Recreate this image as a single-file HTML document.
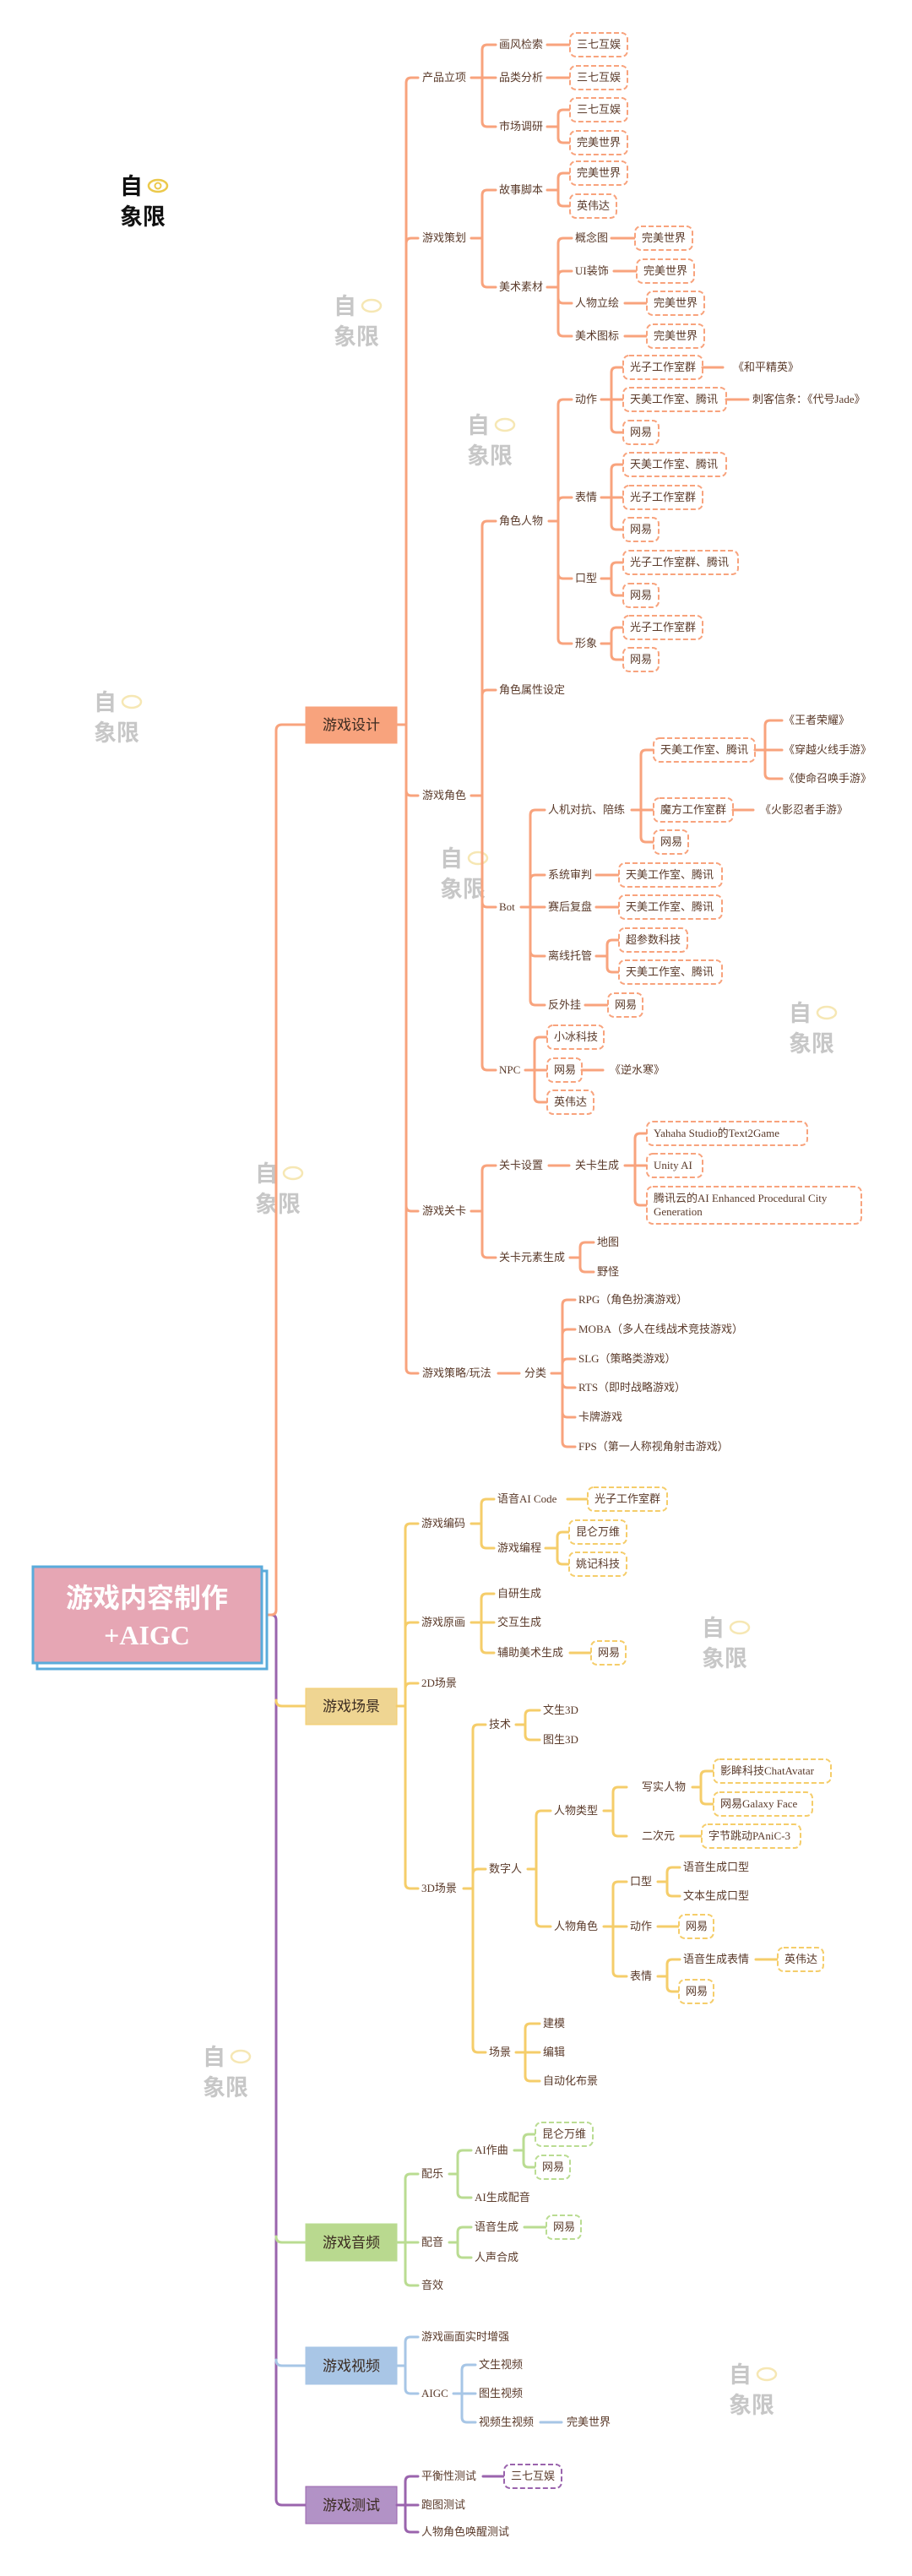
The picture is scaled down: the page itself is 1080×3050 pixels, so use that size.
<!DOCTYPE html>
<html><head><meta charset="utf-8"><style>
html,body{margin:0;padding:0;background:#fff}
svg{display:block}
text{font-family:"Liberation Serif","Noto Sans CJK SC",serif;font-size:13px;fill:#5a3a2a}
.m{font-family:"Liberation Sans","Noto Sans CJK SC",sans-serif;font-size:17px;fill:#3a2a20;text-anchor:middle}
path{fill:none;stroke-width:3;stroke-linecap:round;stroke-linejoin:round}
.o path,.o rect{stroke:#f8a37d}.y path,.y rect{stroke:#f5cd6a}.g path,.g rect{stroke:#badc92}.b path,.b rect{stroke:#a7c6e6}.p path,.p rect{stroke:#9a64ad}
rect.x{fill:#fff;stroke-width:2;stroke-dasharray:6 3}
.wm{font-family:"Liberation Sans","Noto Sans CJK SC",sans-serif;font-weight:bold;font-size:27px;fill:#c4c4c4}
</style></head><body>
<svg width="1080" height="3050" viewBox="0 0 1080 3050" xmlns="http://www.w3.org/2000/svg">
<!-- watermarks -->
<g>
<text class="wm" x="142" y="230" style="fill:#111">自</text><text class="wm" x="142" y="266" style="fill:#111">象限</text>
<ellipse cx="187" cy="220" rx="11" ry="7" fill="none" stroke="#ecc94b" stroke-width="2.5"/><circle cx="187" cy="220" r="3.5" fill="none" stroke="#ecc94b" stroke-width="2"/>
</g>
<g opacity="0.95">
<g transform="translate(395,347)"><text class="wm" x="0" y="25">自</text><text class="wm" x="0" y="61">象限</text><ellipse cx="45" cy="15" rx="11" ry="7" fill="none" stroke="#f6e6b0" stroke-width="2.5"/></g>
<g transform="translate(553,488)"><text class="wm" x="0" y="25">自</text><text class="wm" x="0" y="61">象限</text><ellipse cx="45" cy="15" rx="11" ry="7" fill="none" stroke="#f6e6b0" stroke-width="2.5"/></g>
<g transform="translate(111,816)"><text class="wm" x="0" y="25">自</text><text class="wm" x="0" y="61">象限</text><ellipse cx="45" cy="15" rx="11" ry="7" fill="none" stroke="#f6e6b0" stroke-width="2.5"/></g>
<g transform="translate(521,1001)"><text class="wm" x="0" y="25">自</text><text class="wm" x="0" y="61">象限</text><ellipse cx="45" cy="15" rx="11" ry="7" fill="none" stroke="#f6e6b0" stroke-width="2.5"/></g>
<g transform="translate(934,1184)"><text class="wm" x="0" y="25">自</text><text class="wm" x="0" y="61">象限</text><ellipse cx="45" cy="15" rx="11" ry="7" fill="none" stroke="#f6e6b0" stroke-width="2.5"/></g>
<g transform="translate(302,1374)"><text class="wm" x="0" y="25">自</text><text class="wm" x="0" y="61">象限</text><ellipse cx="45" cy="15" rx="11" ry="7" fill="none" stroke="#f6e6b0" stroke-width="2.5"/></g>
<g transform="translate(831,1912)"><text class="wm" x="0" y="25">自</text><text class="wm" x="0" y="61">象限</text><ellipse cx="45" cy="15" rx="11" ry="7" fill="none" stroke="#f6e6b0" stroke-width="2.5"/></g>
<g transform="translate(240,2420)"><text class="wm" x="0" y="25">自</text><text class="wm" x="0" y="61">象限</text><ellipse cx="45" cy="15" rx="11" ry="7" fill="none" stroke="#f6e6b0" stroke-width="2.5"/></g>
<g transform="translate(863,2796)"><text class="wm" x="0" y="25">自</text><text class="wm" x="0" y="61">象限</text><ellipse cx="45" cy="15" rx="11" ry="7" fill="none" stroke="#f6e6b0" stroke-width="2.5"/></g>
</g>

<!-- trunk -->
<g class="p"><path d="M316 1912 H321 Q327 1912 327 1918 V2959 Q327 2966 334 2966 H362"/></g>
<g class="y"><path d="M327 2013 Q327 2020 334 2020 H362"/></g>
<g class="g"><path d="M327 2648 Q327 2655 334 2655 H362"/></g>
<g class="b"><path d="M327 2794 Q327 2801 334 2801 H362"/></g>
<g class="o"><path d="M316 1912 H321 Q327 1912 327 1906 V865 Q327 858 334 858 H362"/></g>

<!-- root -->
<rect x="44" y="1860" width="272" height="116" fill="#fff" stroke="#5aabdb" stroke-width="3"/>
<rect x="39" y="1855" width="271" height="114" fill="#e6a6b4" stroke="#5aabdb" stroke-width="3"/>
<text x="174" y="1903" style="font-family:'Liberation Sans','Noto Sans CJK SC',sans-serif;font-size:32px;font-weight:bold;fill:#fff;text-anchor:middle">游戏内容制作</text>
<text x="174" y="1947" style="font-family:'Liberation Serif','Noto Sans CJK SC',serif;font-size:32px;font-weight:bold;fill:#fff;text-anchor:middle">+AIGC</text>

<!-- ========== 游戏设计 ========== -->
<g class="o">
<rect x="362" y="837" width="108" height="43" fill="#f8a37d"/>
<text class="m" x="416" y="864">游戏设计</text>
<path d="M470 858 H481"/>
<path d="M481 858 V98 Q481 92 487 92 H495"/>
<path d="M481 858 V288 Q481 282 487 282 H495"/>
<path d="M481 858 V936 Q481 942 487 942 H495"/>
<path d="M481 858 V1428 Q481 1434 487 1434 H495"/>
<path d="M481 858 V1620 Q481 1626 487 1626 H495"/>
<text x="500" y="96">产品立项</text><text x="500" y="286">游戏策划</text><text x="500" y="946">游戏角色</text><text x="500" y="1438">游戏关卡</text><text x="500" y="1630">游戏策略/玩法</text>

<!-- 产品立项 -->
<path d="M558 92 H571"/><path d="M571 92 V59 Q571 53 577 53 H587"/><path d="M571 92 H587"/><path d="M571 92 V144 Q571 150 577 150 H587"/>
<text x="591" y="57">画风检索</text><text x="591" y="96">品类分析</text><text x="591" y="154">市场调研</text>
<path d="M648 53 H675"/><path d="M648 92 H675"/>
<path d="M648 150 H661"/><path d="M661 150 V136 Q661 130 667 130 H675"/><path d="M661 150 V163 Q661 169 667 169 H675"/>
<rect class="x" x="675" y="39" width="68" height="28" rx="7"/><text x="683" y="57">三七互娱</text>
<rect class="x" x="675" y="78" width="68" height="28" rx="7"/><text x="683" y="96">三七互娱</text>
<rect class="x" x="675" y="116" width="68" height="28" rx="7"/><text x="683" y="134">三七互娱</text>
<rect class="x" x="675" y="155" width="68" height="28" rx="7"/><text x="683" y="173">完美世界</text>

<!-- 游戏策划 -->
<path d="M558 282 H571"/><path d="M571 282 V231 Q571 225 577 225 H587"/><path d="M571 282 V334 Q571 340 577 340 H587"/>
<text x="591" y="229">故事脚本</text><text x="591" y="344">美术素材</text>
<path d="M648 225 H661"/><path d="M661 225 V211 Q661 205 667 205 H675"/><path d="M661 225 V238 Q661 244 667 244 H675"/>
<rect class="x" x="675" y="191" width="68" height="28" rx="7"/><text x="683" y="209">完美世界</text>
<rect class="x" x="675" y="230" width="55" height="28" rx="7"/><text x="683" y="248">英伟达</text>
<path d="M648 340 H661"/><path d="M661 340 V288 Q661 282 667 282 H677"/><path d="M661 340 V327 Q661 321 667 321 H677"/><path d="M661 340 V353 Q661 359 667 359 H677"/><path d="M661 340 V392 Q661 398 667 398 H677"/>
<text x="681" y="286">概念图</text><text x="681" y="325">UI装饰</text><text x="681" y="363">人物立绘</text><text x="681" y="402">美术图标</text>
<path d="M724 282 H752"/><path d="M727 321 H754"/><path d="M740 359 H766"/><path d="M740 398 H766"/>
<rect class="x" x="752" y="268" width="68" height="28" rx="7"/><text x="760" y="286">完美世界</text>
<rect class="x" x="754" y="307" width="68" height="28" rx="7"/><text x="762" y="325">完美世界</text>
<rect class="x" x="766" y="345" width="68" height="28" rx="7"/><text x="774" y="363">完美世界</text>
<rect class="x" x="766" y="384" width="68" height="28" rx="7"/><text x="774" y="402">完美世界</text>

<!-- 游戏角色 -->
<path d="M558 942 H571"/><path d="M571 942 V623 Q571 617 577 617 H587"/><path d="M571 942 V823 Q571 817 577 817 H587"/><path d="M571 942 V1068 Q571 1074 577 1074 H587"/><path d="M571 942 V1261 Q571 1267 577 1267 H587"/>
<text x="591" y="621">角色人物</text><text x="591" y="821">角色属性设定</text><text x="591" y="1078">Bot</text><text x="591" y="1271">NPC</text>
<!-- 角色人物 -->
<path d="M650 617 H661"/><path d="M661 617 V479 Q661 473 667 473 H677"/><path d="M661 617 V595 Q661 589 667 589 H677"/><path d="M661 617 V679 Q661 685 667 685 H677"/><path d="M661 617 V756 Q661 762 667 762 H677"/>
<text x="681" y="477">动作</text><text x="681" y="593">表情</text><text x="681" y="689">口型</text><text x="681" y="766">形象</text>
<path d="M712 473 H724"/><path d="M724 473 V441 Q724 435 730 435 H738"/><path d="M724 473 H738"/><path d="M724 473 V506 Q724 512 730 512 H738"/>
<rect class="x" x="738" y="421" width="94" height="28" rx="7"/><text x="746" y="439">光子工作室群</text>
<rect class="x" x="738" y="459" width="122" height="28" rx="7"/><text x="746" y="477">天美工作室、腾讯</text>
<rect class="x" x="738" y="498" width="42" height="28" rx="7"/><text x="746" y="516">网易</text>
<path d="M832 435 H856"/><text x="868" y="439">《和平精英》</text>
<path d="M860 473 H886"/><text x="891" y="477">刺客信条：《代号Jade》</text>
<path d="M712 589 H724"/><path d="M724 589 V556 Q724 550 730 550 H738"/><path d="M724 589 H738"/><path d="M724 589 V621 Q724 627 730 627 H738"/>
<rect class="x" x="738" y="536" width="122" height="28" rx="7"/><text x="746" y="554">天美工作室、腾讯</text>
<rect class="x" x="738" y="575" width="94" height="28" rx="7"/><text x="746" y="593">光子工作室群</text>
<rect class="x" x="738" y="613" width="42" height="28" rx="7"/><text x="746" y="631">网易</text>
<path d="M712 685 H724"/><path d="M724 685 V672 Q724 666 730 666 H738"/><path d="M724 685 V699 Q724 705 730 705 H738"/>
<rect class="x" x="738" y="652" width="136" height="28" rx="7"/><text x="746" y="670">光子工作室群、腾讯</text>
<rect class="x" x="738" y="691" width="42" height="28" rx="7"/><text x="746" y="709">网易</text>
<path d="M712 762 H724"/><path d="M724 762 V749 Q724 743 730 743 H738"/><path d="M724 762 V775 Q724 781 730 781 H738"/>
<rect class="x" x="738" y="729" width="94" height="28" rx="7"/><text x="746" y="747">光子工作室群</text>
<rect class="x" x="738" y="767" width="42" height="28" rx="7"/><text x="746" y="785">网易</text>
<!-- Bot -->
<path d="M617 1074 H628"/><path d="M628 1074 V965 Q628 959 634 959 H645"/><path d="M628 1074 V1042 Q628 1036 634 1036 H645"/><path d="M628 1074 H645"/><path d="M628 1074 V1126 Q628 1132 634 1132 H645"/><path d="M628 1074 V1184 Q628 1190 634 1190 H645"/>
<text x="649" y="963">人机对抗、陪练</text><text x="649" y="1040">系统审判</text><text x="649" y="1078">赛后复盘</text><text x="649" y="1136">离线托管</text><text x="649" y="1194">反外挂</text>
<path d="M748 959 H759"/><path d="M759 959 V894 Q759 888 765 888 H774"/><path d="M759 959 H774"/><path d="M759 959 V991 Q759 997 765 997 H774"/>
<rect class="x" x="774" y="874" width="120" height="28" rx="7"/><text x="782" y="892">天美工作室、腾讯</text>
<rect class="x" x="774" y="945" width="94" height="28" rx="7"/><text x="782" y="963">魔方工作室群</text>
<rect class="x" x="774" y="983" width="41" height="28" rx="7"/><text x="782" y="1001">网易</text>
<path d="M894 888 H906"/><path d="M906 888 V859 Q906 853 912 853 H926"/><path d="M906 888 H926"/><path d="M906 888 V916 Q906 922 912 922 H926"/>
<text x="928" y="857">《王者荣耀》</text><text x="928" y="892">《穿越火线手游》</text><text x="928" y="926">《使命召唤手游》</text>
<path d="M868 959 H892"/><text x="900" y="963">《火影忍者手游》</text>
<path d="M706 1036 H733"/><rect class="x" x="733" y="1022" width="122" height="28" rx="7"/><text x="741" y="1040">天美工作室、腾讯</text>
<path d="M706 1074 H733"/><rect class="x" x="733" y="1060" width="122" height="28" rx="7"/><text x="741" y="1078">天美工作室、腾讯</text>
<path d="M706 1132 H719"/><path d="M719 1132 V1119 Q719 1113 725 1113 H733"/><path d="M719 1132 V1145 Q719 1151 725 1151 H733"/>
<rect class="x" x="733" y="1099" width="81" height="28" rx="7"/><text x="741" y="1117">超参数科技</text>
<rect class="x" x="733" y="1137" width="122" height="28" rx="7"/><text x="741" y="1155">天美工作室、腾讯</text>
<path d="M693 1190 H720"/><rect class="x" x="720" y="1176" width="41" height="28" rx="7"/><text x="728" y="1194">网易</text>
<!-- NPC -->
<path d="M622 1267 H633"/><path d="M633 1267 V1234 Q633 1228 639 1228 H648"/><path d="M633 1267 H648"/><path d="M633 1267 V1299 Q633 1305 639 1305 H648"/>
<rect class="x" x="648" y="1214" width="67" height="28" rx="7"/><text x="656" y="1232">小冰科技</text>
<rect class="x" x="648" y="1253" width="41" height="28" rx="7"/><text x="656" y="1271">网易</text>
<rect class="x" x="648" y="1291" width="55" height="28" rx="7"/><text x="656" y="1309">英伟达</text>
<path d="M689 1267 H714"/><text x="722" y="1271">《逆水寒》</text>

<!-- 游戏关卡 -->
<path d="M558 1434 H571"/><path d="M571 1434 V1386 Q571 1380 577 1380 H587"/><path d="M571 1434 V1483 Q571 1489 577 1489 H587"/>
<text x="591" y="1384">关卡设置</text><text x="591" y="1493">关卡元素生成</text>
<path d="M650 1380 H674"/><text x="681" y="1384">关卡生成</text>
<path d="M740 1380 H752"/><path d="M752 1380 V1348 Q752 1342 758 1342 H766"/><path d="M752 1380 H766"/><path d="M752 1380 V1421 Q752 1427 758 1427 H766"/>
<rect class="x" x="766" y="1328" width="190" height="28" rx="7"/><text x="774" y="1346">Yahaha Studio的Text2Game</text>
<rect class="x" x="766" y="1366" width="66" height="28" rx="7"/><text x="774" y="1384">Unity AI</text>
<rect class="x" x="766" y="1405" width="254" height="44" rx="7"/><text x="774" y="1423">腾讯云的AI Enhanced Procedural City</text><text x="774" y="1439">Generation</text>
<path d="M675 1489 H687"/><path d="M687 1489 V1477 Q687 1471 693 1471 H703"/><path d="M687 1489 V1500 Q687 1506 693 1506 H703"/>
<text x="707" y="1475">地图</text><text x="707" y="1510">野怪</text>
<!-- 策略 -->
<path d="M590 1626 H615"/><text x="621" y="1630">分类</text>
<path d="M653 1626 H666"/>
<path d="M666 1626 V1545 Q666 1539 672 1539 H681"/><path d="M666 1626 V1580 Q666 1574 672 1574 H681"/><path d="M666 1626 V1615 Q666 1609 672 1609 H681"/><path d="M666 1626 V1637 Q666 1643 672 1643 H681"/><path d="M666 1626 V1672 Q666 1678 672 1678 H681"/><path d="M666 1626 V1707 Q666 1713 672 1713 H681"/>
<text x="685" y="1543">RPG（角色扮演游戏）</text><text x="685" y="1578">MOBA（多人在线战术竞技游戏）</text><text x="685" y="1613">SLG（策略类游戏）</text><text x="685" y="1647">RTS（即时战略游戏）</text><text x="685" y="1682">卡牌游戏</text><text x="685" y="1717">FPS（第一人称视角射击游戏）</text>
</g>

<!-- ========== 游戏场景 ========== -->
<g class="y">
<rect x="362" y="1999" width="108" height="43" fill="#efd592"/>
<text class="m" x="416" y="2026">游戏场景</text>
<path d="M470 2020 H480"/>
<path d="M480 2020 V1810 Q480 1804 486 1804 H495"/><path d="M480 2020 V1927 Q480 1921 486 1921 H495"/><path d="M480 2020 V1999 Q480 1993 486 1993 H495"/><path d="M480 2020 V2230 Q480 2236 486 2236 H495"/>
<text x="499" y="1808">游戏编码</text><text x="499" y="1925">游戏原画</text><text x="499" y="1997">2D场景</text><text x="499" y="2240">3D场景</text>
<path d="M558 1804 H570"/><path d="M570 1804 V1781 Q570 1775 576 1775 H585"/><path d="M570 1804 V1827 Q570 1833 576 1833 H585"/>
<text x="589" y="1779">语音AI Code</text><text x="589" y="1837">游戏编程</text>
<path d="M672 1775 H696"/><rect class="x" x="696" y="1761" width="94" height="28" rx="7"/><text x="704" y="1779">光子工作室群</text>
<path d="M646 1833 H660"/><path d="M660 1833 V1820 Q660 1814 666 1814 H674"/><path d="M660 1833 V1846 Q660 1852 666 1852 H674"/>
<rect class="x" x="674" y="1800" width="68" height="28" rx="7"/><text x="682" y="1818">昆仑万维</text>
<rect class="x" x="674" y="1838" width="68" height="28" rx="7"/><text x="682" y="1856">姚记科技</text>
<path d="M558 1921 H570"/><path d="M570 1921 V1893 Q570 1887 576 1887 H585"/><path d="M570 1921 H585"/><path d="M570 1921 V1951 Q570 1957 576 1957 H585"/>
<text x="589" y="1891">自研生成</text><text x="589" y="1925">交互生成</text><text x="589" y="1961">辅助美术生成</text>
<path d="M675 1957 H700"/><rect class="x" x="700" y="1943" width="41" height="28" rx="7"/><text x="708" y="1961">网易</text>
<path d="M549 2236 H560"/><path d="M560 2236 V2048 Q560 2042 566 2042 H575"/><path d="M560 2236 V2219 Q560 2213 566 2213 H575"/><path d="M560 2236 V2424 Q560 2430 566 2430 H575"/>
<text x="579" y="2046">技术</text><text x="579" y="2217">数字人</text><text x="579" y="2434">场景</text>
<path d="M611 2042 H622"/><path d="M622 2042 V2031 Q622 2025 628 2025 H639"/><path d="M622 2042 V2054 Q622 2060 628 2060 H639"/>
<text x="643" y="2029">文生3D</text><text x="643" y="2064">图生3D</text>
<path d="M625 2213 H635"/><path d="M635 2213 V2150 Q635 2144 641 2144 H652"/><path d="M635 2213 V2275 Q635 2281 641 2281 H652"/>
<text x="656" y="2148">人物类型</text><text x="656" y="2285">人物角色</text>
<path d="M715 2144 H726"/><path d="M726 2144 V2122 Q726 2116 732 2116 H742"/><path d="M726 2144 V2168 Q726 2174 732 2174 H742"/>
<text x="760" y="2120">写实人物</text><text x="760" y="2178">二次元</text>
<path d="M820 2116 H830"/><path d="M830 2116 V2103 Q830 2097 836 2097 H845"/><path d="M830 2116 V2130 Q830 2136 836 2136 H845"/>
<rect class="x" x="845" y="2083" width="139" height="28" rx="7"/><text x="853" y="2101">影眸科技ChatAvatar</text>
<rect class="x" x="845" y="2122" width="117" height="28" rx="7"/><text x="853" y="2140">网易Galaxy Face</text>
<path d="M806 2174 H831"/><rect class="x" x="831" y="2160" width="117" height="28" rx="7"/><text x="839" y="2178">字节跳动PAniC-3</text>
<path d="M715 2281 H726"/><path d="M726 2281 V2234 Q726 2228 732 2228 H742"/><path d="M726 2281 H742"/><path d="M726 2281 V2334 Q726 2340 732 2340 H742"/>
<text x="746" y="2232">口型</text><text x="746" y="2285">动作</text><text x="746" y="2344">表情</text>
<path d="M779 2228 H790"/><path d="M790 2228 V2217 Q790 2211 796 2211 H805"/><path d="M790 2228 V2239 Q790 2245 796 2245 H805"/>
<text x="809" y="2215">语音生成口型</text><text x="809" y="2249">文本生成口型</text>
<path d="M779 2281 H804"/><rect class="x" x="804" y="2267" width="41" height="28" rx="7"/><text x="812" y="2285">网易</text>
<path d="M779 2340 H790"/><path d="M790 2340 V2326 Q790 2320 796 2320 H805"/><path d="M790 2340 V2352 Q790 2358 796 2358 H804"/>
<text x="809" y="2324">语音生成表情</text>
<path d="M895 2320 H921"/><rect class="x" x="921" y="2306" width="54" height="28" rx="7"/><text x="929" y="2324">英伟达</text>
<rect class="x" x="804" y="2344" width="41" height="28" rx="7"/><text x="812" y="2362">网易</text>
<path d="M611 2430 H622"/><path d="M622 2430 V2402 Q622 2396 628 2396 H639"/><path d="M622 2430 H639"/><path d="M622 2430 V2458 Q622 2464 628 2464 H639"/>
<text x="643" y="2400">建模</text><text x="643" y="2434">编辑</text><text x="643" y="2468">自动化布景</text>
</g>

<!-- ========== 游戏音频 ========== -->
<g class="g">
<rect x="362" y="2633" width="108" height="44" fill="#b9d98f"/>
<text class="m" x="416" y="2661">游戏音频</text>
<path d="M470 2655 H480"/><path d="M480 2655 V2580 Q480 2574 486 2574 H495"/><path d="M480 2655 H495"/><path d="M480 2655 V2700 Q480 2706 486 2706 H495"/>
<text x="499" y="2578">配乐</text><text x="499" y="2659">配音</text><text x="499" y="2710">音效</text>
<path d="M532 2574 H542"/><path d="M542 2574 V2552 Q542 2546 548 2546 H558"/><path d="M542 2574 V2596 Q542 2602 548 2602 H558"/>
<text x="562" y="2550">AI作曲</text><text x="562" y="2606">AI生成配音</text>
<path d="M609 2546 H620"/><path d="M620 2546 V2533 Q620 2527 626 2527 H634"/><path d="M620 2546 V2560 Q620 2566 626 2566 H634"/>
<rect class="x" x="634" y="2513" width="68" height="28" rx="7"/><text x="642" y="2531">昆仑万维</text>
<rect class="x" x="634" y="2552" width="41" height="28" rx="7"/><text x="642" y="2570">网易</text>
<path d="M532 2655 H542"/><path d="M542 2655 V2643 Q542 2637 548 2637 H558"/><path d="M542 2655 V2667 Q542 2673 548 2673 H558"/>
<text x="562" y="2641">语音生成</text><text x="562" y="2677">人声合成</text>
<path d="M621 2637 H647"/><rect class="x" x="647" y="2623" width="41" height="28" rx="7"/><text x="655" y="2641">网易</text>
</g>

<!-- ========== 游戏视频 ========== -->
<g class="b">
<rect x="362" y="2779" width="108" height="44" fill="#a9c6e6"/>
<text class="m" x="416" y="2807">游戏视频</text>
<path d="M470 2801 H480"/><path d="M480 2801 V2773 Q480 2767 486 2767 H495"/><path d="M480 2801 V2828 Q480 2834 486 2834 H495"/>
<text x="499" y="2771">游戏画面实时增强</text><text x="499" y="2838">AIGC</text>
<path d="M537 2834 H547"/><path d="M547 2834 V2806 Q547 2800 553 2800 H563"/><path d="M547 2834 H563"/><path d="M547 2834 V2862 Q547 2868 553 2868 H563"/>
<text x="567" y="2804">文生视频</text><text x="567" y="2838">图生视频</text><text x="567" y="2872">视频生视频</text>
<path d="M640 2868 H665"/><text x="671" y="2872">完美世界</text>
</g>

<!-- ========== 游戏测试 ========== -->
<g class="p">
<rect x="362" y="2944" width="108" height="44" fill="#b292c6"/>
<text class="m" x="416" y="2972">游戏测试</text>
<path d="M470 2966 H480"/><path d="M480 2966 V2938 Q480 2932 486 2932 H495"/><path d="M480 2966 H495"/><path d="M480 2966 V2992 Q480 2998 486 2998 H495"/>
<text x="499" y="2936">平衡性测试</text><text x="499" y="2970">跑图测试</text><text x="499" y="3002">人物角色唤醒测试</text>
<path d="M572 2932 H597"/><rect class="x" x="597" y="2918" width="68" height="28" rx="7"/><text x="605" y="2936">三七互娱</text>
</g>
</svg>
</body></html>
